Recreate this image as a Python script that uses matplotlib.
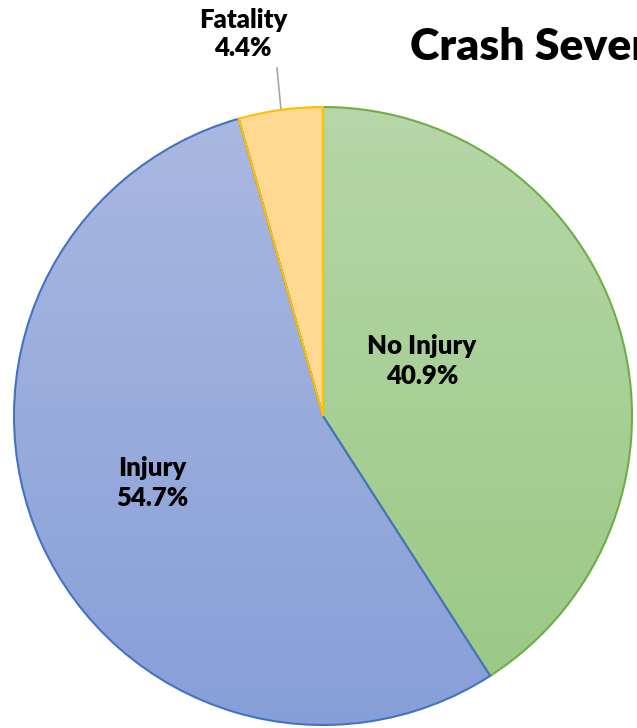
import numpy as np
import matplotlib
matplotlib.use("Agg")
import matplotlib.pyplot as plt
from matplotlib.colors import LinearSegmentedColormap

categories = ["No Injury", "Injury", "Fatality"]
values = [40.9, 54.7, 4.4]
edge_colors = ["#70AD47", "#4472C4", "#FFC000"]
top_colors = ["#B6D7A8", "#A9B8E0", "#FFD991"]
bottom_colors = ["#9BC986", "#879FD8", "#FFD991"]
title = "Crash Severity"

W, H = 637, 728
fig = plt.figure(figsize=(W / 100, H / 100), dpi=100)
ax = fig.add_axes([0, 0, 1, 1])

cx, cy, R = 323, H - 416, 309
wedges, _ = ax.pie(values, startangle=90, counterclock=False,
                   center=(cx, cy), radius=R, frame=True,
                   wedgeprops=dict(linewidth=1.5, facecolor="none"))
ax.set_xlim(0, W)
ax.set_ylim(0, H)
ax.set_aspect("equal")
ax.axis("off")

for w, ec, tc, bc in zip(wedges, edge_colors, top_colors, bottom_colors):
    w.set_edgecolor(ec)
    w.set_zorder(3)
    cmap = LinearSegmentedColormap.from_list("g", [bc, tc])
    grad = np.linspace(0, 1, 256).reshape(-1, 1)
    verts = w.get_path().vertices
    ymin, ymax = verts[:, 1].min(), verts[:, 1].max()
    im = ax.imshow(grad, cmap=cmap, origin="lower", aspect="auto",
                   extent=[cx - R - 2, cx + R + 2, ymin, ymax], zorder=2)
    im.set_clip_path(w)

ax.set_xlim(0, W)
ax.set_ylim(0, H)

font = ["Lato", "DejaVu Sans"]
lab = dict(ha="center", va="center", fontsize=18.5, fontweight="heavy",
           family=font, linespacing=1.25, zorder=5)
ax.text(422, H - 361, "No Injury\n40.9%", **lab)
ax.text(152, H - 483, "Injury\n54.7%", **lab)
ax.text(243, H - 34, "Fatality\n4.4%", **lab)
ax.plot([277, 281], [H - 68, H - 110], color="#A6A6A6", lw=1.2, zorder=1)

fig.text(410 / W, 1 - 47 / H, title, ha="left", va="center",
         fontsize=32, fontweight="heavy", family=font)

fig.savefig("out.png", dpi=100)
